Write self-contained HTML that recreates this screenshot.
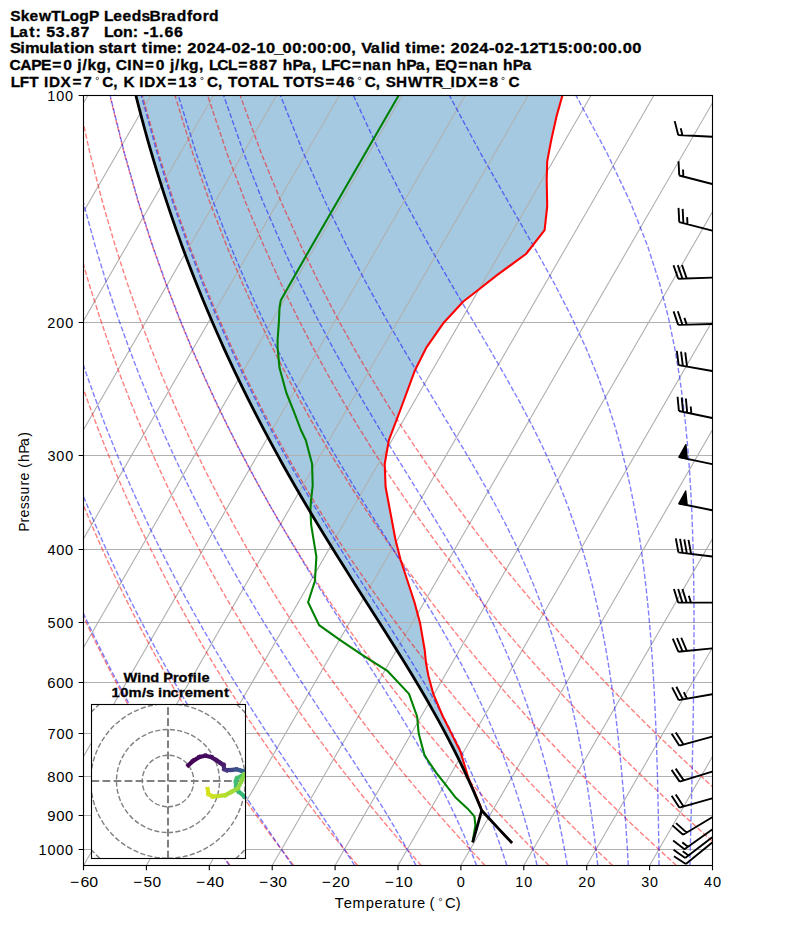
<!DOCTYPE html><html><head><meta charset="utf-8"><title>SkewT</title><style>html,body{margin:0;padding:0;background:#fff;width:794px;height:937px;overflow:hidden}svg{display:block}</style></head><body><svg width="794" height="937" viewBox="0 0 794 937"><defs>
<clipPath id="ax"><rect x="83.5" y="95.5" width="629.0" height="770.0"/></clipPath>
<clipPath id="ins"><rect x="91.5" y="704.5" width="154.0" height="154.0"/></clipPath>
</defs>
<rect x="0" y="0" width="794" height="937" fill="#fff"/>
<g clip-path="url(#ax)">
<polygon points="562.5,95.3 556.5,116.4 551.2,140.2 547.2,161.4 546.7,179.9 547.2,206.4 544.6,230.2 526,254 497,275.1 477.2,290.8 463.3,301.5 443.7,322.7 426.5,347.3 415,370.2 400.3,410 388.8,440.3 384.7,464 385.6,487 395.4,539.3 400.5,559.5 414.4,602 420.1,623.3 424.7,650 426,663.1 428.5,676.2 433.4,694.2 442.4,715.5 452.2,735.1 460.4,751.5 468.6,778.5 480.5,806.3 481.7,810.3 481.74,810.45 479.26,804.44 476.72,798.43 474.12,792.42 471.46,786.42 468.75,780.41 465.97,774.4 463.14,768.39 460.25,762.38 457.3,756.37 454.3,750.37 451.23,744.36 448.11,738.35 444.94,732.34 441.71,726.33 438.43,720.32 435.09,714.32 431.71,708.31 428.28,702.3 424.8,696.29 421.28,690.28 417.72,684.27 414.12,678.26 410.49,672.26 406.82,666.25 403.12,660.24 399.4,654.23 395.65,648.22 391.88,642.21 388.09,636.21 384.29,630.2 380.48,624.19 376.65,618.18 372.82,612.17 368.99,606.16 365.16,600.16 361.33,594.15 357.5,588.14 353.68,582.13 349.87,576.12 346.07,570.11 342.29,564.11 338.52,558.1 334.77,552.09 331.03,546.08 327.32,540.07 323.63,534.06 319.96,528.05 316.31,522.05 312.7,516.04 309.1,510.03 305.54,504.02 302,498.01 298.49,492 295.01,486 291.56,479.99 288.14,473.98 284.75,467.97 281.4,461.96 278.07,455.95 274.78,449.95 271.51,443.94 268.28,437.93 265.09,431.92 261.92,425.91 258.79,419.9 255.69,413.9 252.62,407.89 249.59,401.88 246.59,395.87 243.62,389.86 240.69,383.85 237.78,377.84 234.91,371.84 232.07,365.83 229.27,359.82 226.49,353.81 223.75,347.8 221.04,341.79 218.37,335.79 215.72,329.78 213.11,323.77 210.53,317.76 207.98,311.75 205.46,305.74 202.97,299.74 200.51,293.73 198.09,287.72 195.69,281.71 193.32,275.7 190.99,269.69 188.69,263.69 186.41,257.68 184.17,251.67 181.95,245.66 179.77,239.65 177.61,233.64 175.49,227.63 173.39,221.63 171.32,215.62 169.29,209.61 167.28,203.6 165.3,197.59 163.34,191.58 161.42,185.58 159.52,179.57 157.66,173.56 155.82,167.55 154,161.54 152.22,155.53 150.46,149.53 148.73,143.52 147.03,137.51 145.35,131.5 143.7,125.49 142.08,119.48 140.49,113.48 138.92,107.47 137.38,101.46 135.86,95.45 127.65,60.95 562.5,80" fill="#1f77b4" fill-opacity="0.4" stroke="none"/>
<path d="M-419.7 865.5L24.86 95.5M-356.8 865.5L87.76 95.5M-293.9 865.5L150.66 95.5M-231 865.5L213.56 95.5M-168.1 865.5L276.46 95.5M-105.2 865.5L339.36 95.5M-42.3 865.5L402.26 95.5M20.6 865.5L465.16 95.5M83.5 865.5L528.06 95.5M146.4 865.5L590.96 95.5M209.3 865.5L653.86 95.5M272.2 865.5L716.76 95.5M335.1 865.5L779.66 95.5M398 865.5L842.56 95.5M460.9 865.5L905.46 95.5M523.8 865.5L968.36 95.5M586.7 865.5L1031.26 95.5M649.6 865.5L1094.16 95.5M712.5 865.5L1157.06 95.5M83.5 95.5L712.5 95.5M83.5 322.5L712.5 322.5M83.5 455.5L712.5 455.5M83.5 549.5L712.5 549.5M83.5 622.5L712.5 622.5M83.5 682.5L712.5 682.5M83.5 733.5L712.5 733.5M83.5 776.5L712.5 776.5M83.5 815.5L712.5 815.5M83.5 849.5L712.5 849.5" stroke="#b0b0b0" stroke-width="1.11" fill="none"/>
<path d="M229.92 865.45L225.54 859.35L221.13 853.13L216.67 846.79L212.18 840.32L207.64 833.73L203.05 827L198.42 820.13L193.75 813.11L189.03 805.94L184.26 798.6L179.44 791.1L174.57 783.43L169.64 775.56L164.66 767.51L159.63 759.25L154.54 750.78L149.39 742.08L144.18 733.15L138.91 723.97L133.57 714.52L128.17 704.79L122.7 694.76L117.16 684.41L111.54 673.73L105.86 662.69L100.09 651.26L94.25 639.42L88.33 627.13L82.32 614.37L76.22 601.09L70.04 587.24L63.76 572.79L57.39 557.67L50.93 541.81L44.37 525.15L37.71 507.59L30.94 489.04L24.08 469.38L17.12 448.46L10.07 426.11L2.92 402.12L-4.3 376.24L-11.58 348.13L-18.89 317.38L-26.2 283.45L-33.42 245.58L-40.45 202.76L-47.1 153.48L-53.05 95.45M293.7 865.45L288.99 859.35L284.23 853.13L279.43 846.79L274.58 840.32L269.68 833.73L264.73 827L259.73 820.13L254.69 813.11L249.58 805.94L244.43 798.6L239.21 791.1L233.94 783.43L228.61 775.56L223.22 767.51L217.77 759.25L212.25 750.78L206.66 742.08L201.01 733.15L195.28 723.97L189.48 714.52L183.61 704.79L177.65 694.76L171.62 684.41L165.5 673.73L159.3 662.69L153 651.26L146.62 639.42L140.13 627.13L133.55 614.37L126.87 601.09L120.08 587.24L113.17 572.79L106.16 557.67L99.02 541.81L91.76 525.15L84.38 507.59L76.87 489.04L69.23 469.38L61.45 448.46L53.54 426.11L45.5 402.12L37.32 376.24L29.03 348.13L20.64 317.38L12.19 283.45L3.72 245.58L-4.67 202.76L-12.83 153.48L-20.47 95.45M357.48 865.45L352.43 859.35L347.33 853.13L342.18 846.79L336.98 840.32L331.72 833.73L326.41 827L321.04 820.13L315.62 813.11L310.14 805.94L304.6 798.6L298.99 791.1L293.32 783.43L287.58 775.56L281.78 767.51L275.91 759.25L269.96 750.78L263.94 742.08L257.84 733.15L251.66 723.97L245.4 714.52L239.05 704.79L232.61 694.76L226.08 684.41L219.46 673.73L212.74 662.69L205.91 651.26L198.98 639.42L191.94 627.13L184.79 614.37L177.51 601.09L170.11 587.24L162.58 572.79L154.92 557.67L147.11 541.81L139.16 525.15L131.06 507.59L122.8 489.04L114.37 469.38L105.78 448.46L97.01 426.11L88.07 402.12L78.95 376.24L69.65 348.13L60.18 317.38L50.57 283.45L40.86 245.58L31.1 202.76L21.44 153.48L12.11 95.45M421.26 865.45L415.87 859.35L410.43 853.13L404.93 846.79L399.38 840.32L393.76 833.73L388.09 827L382.35 820.13L376.56 813.11L370.69 805.94L364.77 798.6L358.77 791.1L352.7 783.43L346.56 775.56L340.34 767.51L334.04 759.25L327.67 750.78L321.21 742.08L314.67 733.15L308.03 723.97L301.31 714.52L294.49 704.79L287.57 694.76L280.55 684.41L273.42 673.73L266.18 662.69L258.82 651.26L251.35 639.42L243.75 627.13L236.02 614.37L228.16 601.09L220.15 587.24L211.99 572.79L203.68 557.67L195.21 541.81L186.56 525.15L177.74 507.59L168.73 489.04L159.52 469.38L150.11 448.46L140.49 426.11L130.64 402.12L120.57 376.24L110.26 348.13L99.72 317.38L88.96 283.45L78 245.58L66.88 202.76L55.71 153.48L44.69 95.45M485.05 865.45L479.32 859.35L473.53 853.13L467.68 846.79L461.78 840.32L455.8 833.73L449.77 827L443.66 820.13L437.49 813.11L431.25 805.94L424.93 798.6L418.54 791.1L412.08 783.43L405.53 775.56L398.9 767.51L392.18 759.25L385.38 750.78L378.48 742.08L371.5 733.15L364.41 723.97L357.22 714.52L349.93 704.79L342.53 694.76L335.01 684.41L327.38 673.73L319.62 662.69L311.74 651.26L303.72 639.42L295.56 627.13L287.26 614.37L278.8 601.09L270.18 587.24L261.4 572.79L252.44 557.67L243.3 541.81L233.96 525.15L224.41 507.59L214.65 489.04L204.67 469.38L194.44 448.46L183.96 426.11L173.22 402.12L162.19 376.24L150.88 348.13L139.26 317.38L127.35 283.45L115.13 245.58L102.65 202.76L89.98 153.48L77.27 95.45M548.83 865.45L542.76 859.35L536.63 853.13L530.44 846.79L524.18 840.32L517.85 833.73L511.45 827L504.97 820.13L498.43 813.11L491.81 805.94L485.1 798.6L478.32 791.1L471.45 783.43L464.5 775.56L457.46 767.51L450.32 759.25L443.09 750.78L435.76 742.08L428.33 733.15L420.79 723.97L413.13 714.52L405.37 704.79L397.48 694.76L389.47 684.41L381.34 673.73L373.06 662.69L364.65 651.26L356.08 639.42L347.37 627.13L338.49 614.37L329.44 601.09L320.22 587.24L310.81 572.79L301.2 557.67L291.39 541.81L281.36 525.15L271.09 507.59L260.58 489.04L249.81 469.38L238.77 448.46L227.44 426.11L215.79 402.12L203.81 376.24L191.49 348.13L178.8 317.38L165.73 283.45L152.27 245.58L138.43 202.76L124.25 153.48L109.85 95.45M612.61 865.45L606.21 859.35L599.73 853.13L593.19 846.79L586.58 840.32L579.89 833.73L573.12 827L566.28 820.13L559.36 813.11L552.36 805.94L545.27 798.6L538.1 791.1L530.83 783.43L523.47 775.56L516.02 767.51L508.46 759.25L500.8 750.78L493.03 742.08L485.15 733.15L477.16 723.97L469.05 714.52L460.81 704.79L452.44 694.76L443.94 684.41L435.29 673.73L426.5 662.69L417.56 651.26L408.45 639.42L399.18 627.13L389.73 614.37L380.09 601.09L370.26 587.24L360.22 572.79L349.97 557.67L339.48 541.81L328.75 525.15L317.77 507.59L306.51 489.04L294.96 469.38L283.1 448.46L270.91 426.11L258.36 402.12L245.44 376.24L232.11 348.13L218.34 317.38L204.12 283.45L189.41 245.58L174.21 202.76L158.52 153.48L142.43 95.45M676.4 865.45L669.65 859.35L662.83 853.13L655.94 846.79L648.98 840.32L641.93 833.73L634.8 827L627.59 820.13L620.3 813.11L612.92 805.94L605.44 798.6L597.87 791.1L590.21 783.43L582.44 775.56L574.58 767.51L566.6 759.25L558.51 750.78L550.31 742.08L541.98 733.15L533.54 723.97L524.96 714.52L516.25 704.79L507.4 694.76L498.4 684.41L489.25 673.73L479.94 662.69L470.47 651.26L460.82 639.42L450.99 627.13L440.96 614.37L430.73 601.09L420.29 587.24L409.63 572.79L398.73 557.67L387.57 541.81L376.15 525.15L364.45 507.59L352.44 489.04L340.11 469.38L327.43 448.46L314.38 426.11L300.94 402.12L287.06 376.24L272.72 348.13L257.88 317.38L242.5 283.45L226.55 245.58L209.98 202.76L192.79 153.48L175 95.45M740.18 865.45L733.1 859.35L725.93 853.13L718.7 846.79L711.38 840.32L703.97 833.73L696.48 827L688.9 820.13L681.24 813.11L673.47 805.94L665.61 798.6L657.65 791.1L649.59 783.43L641.42 775.56L633.13 767.51L624.74 759.25L616.22 750.78L607.58 742.08L598.81 733.15L589.91 723.97L580.87 714.52L571.69 704.79L562.36 694.76L552.87 684.41L543.21 673.73L533.38 662.69L523.38 651.26L513.19 639.42L502.79 627.13L492.2 614.37L481.38 601.09L470.33 587.24L459.04 572.79L447.49 557.67L435.66 541.81L423.55 525.15L411.12 507.59L398.37 489.04L385.25 469.38L371.76 448.46L357.86 426.11L343.51 402.12L328.68 376.24L313.34 348.13L297.42 317.38L280.89 283.45L263.69 245.58L245.76 202.76L227.06 153.48L207.58 95.45M803.96 865.45L796.54 859.35L789.04 853.13L781.45 846.79L773.78 840.32L766.01 833.73L758.16 827L750.21 820.13L742.17 813.11L734.03 805.94L725.78 798.6L717.43 791.1L708.97 783.43L700.39 775.56L691.69 767.51L682.88 759.25L673.93 750.78L664.86 742.08L655.64 733.15L646.29 723.97L636.79 714.52L627.13 704.79L617.31 694.76L607.33 684.41L597.17 673.73L586.83 662.69L576.29 651.26L565.55 639.42L554.6 627.13L543.43 614.37L532.02 601.09L520.37 587.24L508.45 572.79L496.25 557.67L483.76 541.81L470.95 525.15L457.8 507.59L444.29 489.04L430.4 469.38L416.09 448.46L401.33 426.11L386.08 402.12L370.31 376.24L353.95 348.13L336.96 317.38L319.28 283.45L300.83 245.58L281.54 202.76L261.33 153.48L240.16 95.45" stroke="#ff0000" stroke-opacity="0.5" stroke-width="1.39" fill="none" stroke-dasharray="5.14 2.22"/>
<path d="M229.35 865.45L225.21 859.35L221.01 853.13L216.75 846.79L212.44 840.32L208.06 833.73L203.63 827L199.13 820.13L194.58 813.11L189.97 805.94L185.29 798.6L180.55 791.1L175.76 783.43L170.9 775.56L165.97 767.51L160.99 759.25L155.93 750.78L150.82 742.08L145.63 733.15L140.38 723.97L135.06 714.52L129.67 704.79L124.2 694.76L118.66 684.41L113.05 673.73L107.36 662.69L101.59 651.26L95.74 639.42L89.8 627.13L83.78 614.37L77.67 601.09L71.48 587.24L65.18 572.79L58.8 557.67L52.31 541.81L45.73 525.15L39.05 507.59L32.27 489.04L25.38 469.38L18.4 448.46L11.32 426.11L4.15 402.12L-3.1 376.24L-10.41 348.13L-17.75 317.38L-25.09 283.45L-32.35 245.58L-39.42 202.76L-46.12 153.48L-52.11 95.45M292.33 865.45L288.18 859.35L283.94 853.13L279.63 846.79L275.23 840.32L270.74 833.73L266.18 827L261.53 820.13L256.8 813.11L251.99 805.94L247.09 798.6L242.11 791.1L237.04 783.43L231.9 775.56L226.66 767.51L221.35 759.25L215.95 750.78L210.46 742.08L204.89 733.15L199.23 723.97L193.48 714.52L187.64 704.79L181.72 694.76L175.7 684.41L169.58 673.73L163.38 662.69L157.07 651.26L150.67 639.42L144.16 627.13L137.55 614.37L130.83 601.09L124 587.24L117.06 572.79L109.99 557.67L102.81 541.81L95.5 525.15L88.07 507.59L80.5 489.04L72.79 469.38L64.95 448.46L56.97 426.11L48.86 402.12L40.61 376.24L32.24 348.13L23.77 317.38L15.22 283.45L6.65 245.58L-1.85 202.76L-10.13 153.48L-17.9 95.45M354.59 865.45L350.71 859.35L346.71 853.13L342.61 846.79L338.4 840.32L334.07 833.73L329.63 827L325.08 820.13L320.41 813.11L315.62 805.94L310.72 798.6L305.7 791.1L300.56 783.43L295.3 775.56L289.92 767.51L284.42 759.25L278.8 750.78L273.06 742.08L267.21 733.15L261.23 723.97L255.13 714.52L248.92 704.79L242.58 694.76L236.12 684.41L229.54 673.73L222.84 662.69L216.01 651.26L209.06 639.42L201.97 627.13L194.76 614.37L187.41 601.09L179.93 587.24L172.3 572.79L164.53 557.67L156.61 541.81L148.53 525.15L140.29 507.59L131.89 489.04L123.31 469.38L114.56 448.46L105.62 426.11L96.5 402.12L87.19 376.24L77.69 348.13L68.02 317.38L58.18 283.45L48.21 245.58L38.19 202.76L28.23 153.48L18.56 95.45M415.97 865.45L412.68 859.35L409.28 853.13L405.75 846.79L402.1 840.32L398.31 833.73L394.38 827L390.31 820.13L386.1 813.11L381.73 805.94L377.21 798.6L372.54 791.1L367.7 783.43L362.69 775.56L357.52 767.51L352.18 759.25L346.66 750.78L340.97 742.08L335.11 733.15L329.07 723.97L322.86 714.52L316.46 704.79L309.9 694.76L303.15 684.41L296.23 673.73L289.13 662.69L281.86 651.26L274.41 639.42L266.78 627.13L258.98 614.37L251 601.09L242.84 587.24L234.49 572.79L225.96 557.67L217.23 541.81L208.31 525.15L199.19 507.59L189.86 489.04L180.31 469.38L170.53 448.46L160.52 426.11L150.26 402.12L139.76 376.24L128.99 348.13L117.95 317.38L106.66 283.45L95.12 245.58L83.37 202.76L71.51 153.48L59.71 95.45M476.62 865.45L474.2 859.35L471.67 853.13L469.03 846.79L466.27 840.32L463.39 833.73L460.39 827L457.24 820.13L453.95 813.11L450.5 805.94L446.9 798.6L443.12 791.1L439.16 783.43L435.01 775.56L430.66 767.51L426.11 759.25L421.34 750.78L416.34 742.08L411.1 733.15L405.63 723.97L399.9 714.52L393.91 704.79L387.66 694.76L381.14 684.41L374.34 673.73L367.27 662.69L359.92 651.26L352.29 639.42L344.38 627.13L336.19 614.37L327.73 601.09L318.99 587.24L309.97 572.79L300.68 557.67L291.12 541.81L281.28 525.15L271.16 507.59L260.75 489.04L250.05 469.38L239.06 448.46L227.75 426.11L216.12 402.12L204.15 376.24L191.83 348.13L179.14 317.38L166.06 283.45L152.59 245.58L138.74 202.76L124.54 153.48L110.12 95.45M506.83 865.45L504.87 859.35L502.83 853.13L500.69 846.79L498.46 840.32L496.11 833.73L493.66 827L491.09 820.13L488.38 813.11L485.54 805.94L482.56 798.6L479.42 791.1L476.11 783.43L472.62 775.56L468.94 767.51L465.06 759.25L460.97 750.78L456.65 742.08L452.08 733.15L447.26 723.97L442.16 714.52L436.78 704.79L431.1 694.76L425.11 684.41L418.79 673.73L412.13 662.69L405.13 651.26L397.77 639.42L390.06 627.13L381.98 614.37L373.53 601.09L364.72 587.24L355.54 572.79L346 557.67L336.1 541.81L325.85 525.15L315.23 507.59L304.26 489.04L292.93 469.38L281.24 448.46L269.17 426.11L256.72 402.12L243.87 376.24L230.59 348.13L216.88 317.38L202.71 283.45L188.05 245.58L172.89 202.76L157.26 153.48L141.23 95.45M537.05 865.45L535.56 859.35L533.99 853.13L532.35 846.79L530.64 840.32L528.84 833.73L526.95 827L524.97 820.13L522.88 813.11L520.68 805.94L518.36 798.6L515.91 791.1L513.33 783.43L510.59 775.56L507.69 767.51L504.62 759.25L501.35 750.78L497.88 742.08L494.19 733.15L490.26 723.97L486.08 714.52L481.61 704.79L476.84 694.76L471.75 684.41L466.32 673.73L460.51 662.69L454.32 651.26L447.71 639.42L440.66 627.13L433.16 614.37L425.18 601.09L416.73 587.24L407.77 572.79L398.32 557.67L388.37 541.81L377.92 525.15L366.98 507.59L355.55 489.04L343.63 469.38L331.24 448.46L318.36 426.11L304.99 402.12L291.13 376.24L276.76 348.13L261.85 317.38L246.38 283.45L230.3 245.58L213.61 202.76L196.26 153.48L178.3 95.45M567.36 865.45L566.29 859.35L565.17 853.13L564 846.79L562.78 840.32L561.49 833.73L560.14 827L558.72 820.13L557.23 813.11L555.65 805.94L553.99 798.6L552.22 791.1L550.36 783.43L548.38 775.56L546.28 767.51L544.05 759.25L541.66 750.78L539.12 742.08L536.41 733.15L533.5 723.97L530.38 714.52L527.03 704.79L523.42 694.76L519.53 684.41L515.33 673.73L510.8 662.69L505.89 651.26L500.57 639.42L494.8 627.13L488.54 614.37L481.75 601.09L474.39 587.24L466.42 572.79L457.81 557.67L448.52 541.81L438.53 525.15L427.82 507.59L416.39 489.04L404.25 469.38L391.39 448.46L377.83 426.11L363.59 402.12L348.66 376.24L333.05 348.13L316.75 317.38L299.73 283.45L281.95 245.58L263.37 202.76L243.93 153.48L223.62 95.45M597.78 865.45L597.1 859.35L596.38 853.13L595.63 846.79L594.85 840.32L594.03 833.73L593.16 827L592.25 820.13L591.29 813.11L590.27 805.94L589.2 798.6L588.06 791.1L586.86 783.43L585.58 775.56L584.22 767.51L582.76 759.25L581.21 750.78L579.55 742.08L577.77 733.15L575.86 723.97L573.8 714.52L571.58 704.79L569.17 694.76L566.56 684.41L563.73 673.73L560.64 662.69L557.26 651.26L553.56 639.42L549.49 627.13L545.02 614.37L540.08 601.09L534.61 587.24L528.55 572.79L521.83 557.67L514.37 541.81L506.08 525.15L496.88 507.59L486.71 489.04L475.49 469.38L463.19 448.46L449.77 426.11L435.24 402.12L419.61 376.24L402.91 348.13L385.17 317.38L366.4 283.45L346.59 245.58L325.7 202.76L303.67 153.48L280.42 95.45M628.34 865.45L627.99 859.35L627.62 853.13L627.24 846.79L626.83 840.32L626.41 833.73L625.95 827L625.48 820.13L624.97 813.11L624.44 805.94L623.87 798.6L623.27 791.1L622.63 783.43L621.95 775.56L621.22 767.51L620.43 759.25L619.59 750.78L618.69 742.08L617.72 733.15L616.67 723.97L615.53 714.52L614.3 704.79L612.96 694.76L611.5 684.41L609.89 673.73L608.14 662.69L606.2 651.26L604.06 639.42L601.7 627.13L599.06 614.37L596.11 601.09L592.81 587.24L589.09 572.79L584.88 557.67L580.1 541.81L574.65 525.15L568.4 507.59L561.21 489.04L552.94 469.38L543.39 448.46L532.39 426.11L519.75 402.12L505.34 376.24L489.06 348.13L470.9 317.38L450.88 283.45L429.08 245.58L405.57 202.76L380.37 153.48L353.4 95.45M659.05 865.45L658.98 859.35L658.9 853.13L658.82 846.79L658.72 840.32L658.62 833.73L658.52 827L658.4 820.13L658.27 813.11L658.13 805.94L657.98 798.6L657.81 791.1L657.63 783.43L657.43 775.56L657.21 767.51L656.96 759.25L656.7 750.78L656.4 742.08L656.08 733.15L655.72 723.97L655.32 714.52L654.87 704.79L654.38 694.76L653.83 684.41L653.21 673.73L652.52 662.69L651.74 651.26L650.87 639.42L649.88 627.13L648.75 614.37L647.47 601.09L646.01 587.24L644.33 572.79L642.39 557.67L640.14 541.81L637.51 525.15L634.42 507.59L630.77 489.04L626.42 469.38L621.19 448.46L614.87 426.11L607.17 402.12L597.72 376.24L586.09 348.13L571.77 317.38L554.3 283.45L533.32 245.58L508.74 202.76L480.69 153.48L449.42 95.45M689.91 865.45L690.06 859.35L690.21 853.13L690.37 846.79L690.53 840.32L690.69 833.73L690.86 827L691.02 820.13L691.19 813.11L691.36 805.94L691.54 798.6L691.71 791.1L691.89 783.43L692.06 775.56L692.24 767.51L692.41 759.25L692.59 750.78L692.76 742.08L692.93 733.15L693.09 723.97L693.25 714.52L693.4 704.79L693.54 694.76L693.67 684.41L693.78 673.73L693.88 662.69L693.96 651.26L694 639.42L694.02 627.13L694 614.37L693.92 601.09L693.79 587.24L693.58 572.79L693.29 557.67L692.88 541.81L692.33 525.15L691.6 507.59L690.66 489.04L689.43 469.38L687.83 448.46L685.76 426.11L683.05 402.12L679.49 376.24L674.74 348.13L668.35 317.38L659.61 283.45L647.49 245.58L630.58 202.76L607.19 153.48L576.01 95.45M720.89 865.45L721.22 859.35L721.55 853.13L721.9 846.79L722.26 840.32L722.62 833.73L723 827L723.39 820.13L723.78 813.11L724.19 805.94L724.62 798.6L725.05 791.1L725.5 783.43L725.96 775.56L726.43 767.51L726.92 759.25L727.42 750.78L727.94 742.08L728.47 733.15L729.02 723.97L729.59 714.52L730.17 704.79L730.77 694.76L731.39 684.41L732.03 673.73L732.68 662.69L733.36 651.26L734.05 639.42L734.76 627.13L735.5 614.37L736.25 601.09L737.01 587.24L737.8 572.79L738.59 557.67L739.39 541.81L740.2 525.15L741 507.59L741.79 489.04L742.55 469.38L743.25 448.46L743.87 426.11L744.37 402.12L744.67 376.24L744.67 348.13L744.21 317.38L743.03 283.45L740.7 245.58L736.45 202.76L728.84 153.48L715.09 95.45M751.98 865.45L752.45 859.35L752.92 853.13L753.41 846.79L753.92 840.32L754.44 833.73L754.97 827L755.52 820.13L756.09 813.11L756.68 805.94L757.29 798.6L757.91 791.1L758.56 783.43L759.23 775.56L759.92 767.51L760.64 759.25L761.38 750.78L762.14 742.08L762.94 733.15L763.77 723.97L764.62 714.52L765.51 704.79L766.44 694.76L767.4 684.41L768.4 673.73L769.44 662.69L770.53 651.26L771.66 639.42L772.85 627.13L774.09 614.37L775.39 601.09L776.75 587.24L778.18 572.79L779.68 557.67L781.26 541.81L782.92 525.15L784.67 507.59L786.52 489.04L788.48 469.38L790.55 448.46L792.74 426.11L795.06 402.12L797.52 376.24L800.11 348.13L802.84 317.38L805.69 283.45L808.59 245.58L811.44 202.76L813.96 153.48L815.52 95.45M783.17 865.45L783.73 859.35L784.31 853.13L784.91 846.79L785.52 840.32L786.15 833.73L786.8 827L787.47 820.13L788.16 813.11L788.88 805.94L789.62 798.6L790.38 791.1L791.17 783.43L791.99 775.56L792.83 767.51L793.71 759.25L794.62 750.78L795.56 742.08L796.54 733.15L797.56 723.97L798.62 714.52L799.72 704.79L800.86 694.76L802.06 684.41L803.31 673.73L804.61 662.69L805.98 651.26L807.41 639.42L808.91 627.13L810.48 614.37L812.14 601.09L813.89 587.24L815.73 572.79L817.68 557.67L819.75 541.81L821.95 525.15L824.29 507.59L826.79 489.04L829.47 469.38L832.34 448.46L835.45 426.11L838.81 402.12L842.48 376.24L846.49 348.13L850.9 317.38L855.8 283.45L861.27 245.58L867.44 202.76L874.46 153.48L882.53 95.45" stroke="#0000ff" stroke-opacity="0.5" stroke-width="1.39" fill="none" stroke-dasharray="5.14 2.22"/>
<polyline points="562.5,95.3 556.5,116.4 551.2,140.2 547.2,161.4 546.7,179.9 547.2,206.4 544.6,230.2 526,254 497,275.1 477.2,290.8 463.3,301.5 443.7,322.7 426.5,347.3 415,370.2 400.3,410 388.8,440.3 384.7,464 385.6,487 395.4,539.3 400.5,559.5 414.4,602 420.1,623.3 424.7,650 426,663.1 428.5,676.2 433.4,694.2 442.4,715.5 452.2,735.1 460.4,751.5 468.6,778.5 480.5,806.3 481.7,810.3 486.13,815.29 490.53,820.07 494.9,824.78 499.23,829.41 503.53,833.99 507.8,838.5 512.04,842.95" stroke="#ff0000" stroke-width="2.08" fill="none" stroke-linejoin="round"/>
<polyline points="398.6,95.6 309.4,250 280.8,300.2 279.5,308 278.9,321.9 277.6,340 277.6,347.6 279.5,367.8 286.4,393 294,411.9 300.9,430 305.8,440.2 312.1,464.1 312.7,485.5 310.9,501.9 310.4,510 311.2,525.1 316.4,556.8 314.9,581 308.1,602.2 319.1,625.1 340.2,640.2 362.9,655.3 387.8,671.2 409,693.9 417.1,716.5 418.7,733.5 424.4,754.8 427.6,760 436.1,772.6 445.2,784.2 455.8,797.8 467.4,808.4 474.4,816.4 475.4,825.5 472.9,840 472.7,842.4" stroke="#008000" stroke-width="2.08" fill="none" stroke-linejoin="round"/>
<polyline points="512.04,842.95 507.8,838.5 503.53,833.99 499.23,829.41 494.9,824.78 490.53,820.07 486.13,815.29 481.7,810.45 479.26,804.44 476.72,798.43 474.12,792.42 471.46,786.42 468.75,780.41 465.97,774.4 463.14,768.39 460.25,762.38 457.3,756.37 454.3,750.37 451.23,744.36 448.11,738.35 444.94,732.34 441.71,726.33 438.43,720.32 435.09,714.32 431.71,708.31 428.28,702.3 424.8,696.29 421.28,690.28 417.72,684.27 414.12,678.26 410.49,672.26 406.82,666.25 403.12,660.24 399.4,654.23 395.65,648.22 391.88,642.21 388.09,636.21 384.29,630.2 380.48,624.19 376.65,618.18 372.82,612.17 368.99,606.16 365.16,600.16 361.33,594.15 357.5,588.14 353.68,582.13 349.87,576.12 346.07,570.11 342.29,564.11 338.52,558.1 334.77,552.09 331.03,546.08 327.32,540.07 323.63,534.06 319.96,528.05 316.31,522.05 312.7,516.04 309.1,510.03 305.54,504.02 302,498.01 298.49,492 295.01,486 291.56,479.99 288.14,473.98 284.75,467.97 281.4,461.96 278.07,455.95 274.78,449.95 271.51,443.94 268.28,437.93 265.09,431.92 261.92,425.91 258.79,419.9 255.69,413.9 252.62,407.89 249.59,401.88 246.59,395.87 243.62,389.86 240.69,383.85 237.78,377.84 234.91,371.84 232.07,365.83 229.27,359.82 226.49,353.81 223.75,347.8 221.04,341.79 218.37,335.79 215.72,329.78 213.11,323.77 210.53,317.76 207.98,311.75 205.46,305.74 202.97,299.74 200.51,293.73 198.09,287.72 195.69,281.71 193.32,275.7 190.99,269.69 188.69,263.69 186.41,257.68 184.17,251.67 181.95,245.66 179.77,239.65 177.61,233.64 175.49,227.63 173.39,221.63 171.32,215.62 169.29,209.61 167.28,203.6 165.3,197.59 163.34,191.58 161.42,185.58 159.52,179.57 157.66,173.56 155.82,167.55 154,161.54 152.22,155.53 150.46,149.53 148.73,143.52 147.03,137.51 145.35,131.5 143.7,125.49 142.08,119.48 140.49,113.48 138.92,107.47 137.38,101.46 135.86,95.45 127.65,60.95" stroke="#000" stroke-width="2.78" fill="none" stroke-linejoin="round"/>
<polyline points="472.7,842.4 481.74,810.45" stroke="#000" stroke-width="2.78" fill="none"/>
</g>
<g clip-path="url(#ax)">
<path d="M712.2 136.8L678.22 134.94M678.22 134.94L674.72 121.12M682.47 135.18L680.72 128.27M712.2 184L679.25 175.49M679.25 175.49L678.54 161.25M683.37 176.56L683.01 169.44M712.2 230.6L679.25 222.09M679.25 222.09L678.54 207.85M683.37 223.16L682.65 208.92M687.49 224.22L687.13 217.1M712.2 277.6L678.19 278.68M678.19 278.68L673.51 265.21M682.44 278.54L677.76 265.07M686.69 278.41L682.01 264.94M712.2 324L678.18 324.88M678.18 324.88L673.58 311.38M682.44 324.77L677.83 311.27M686.69 324.66L684.39 317.91M712.2 371L678.68 365.12M678.68 365.12L676.84 350.98M682.87 365.86L681.03 351.72M687.06 366.59L685.22 352.45M712.2 418L678.91 410.97M678.91 410.97L677.56 396.77M683.07 411.85L681.72 397.65M687.23 412.73L685.88 398.53M691.39 413.61L690.72 406.51M712.2 464.1L678.91 457.07M712.2 510.2L678.84 503.47M712.2 556.5L678.42 552.42M678.42 552.42L675.83 538.4M682.64 552.93L680.05 538.91M686.86 553.44L684.27 539.42M691.09 553.95L688.49 539.93M712.2 602.6L678.17 602.6M678.17 602.6L673.92 588.99M682.43 602.6L678.17 588.99M686.68 602.6L682.43 588.99M690.93 602.6L688.81 595.79M712.2 648.4L678.33 651.71M678.33 651.71L672.78 638.58M682.57 651.3L677.01 638.16M686.8 650.88L681.24 637.75M712.2 694.2L678.69 700.1M678.69 700.1L672.14 687.43M682.88 699.36L676.33 686.69M687.07 698.62L683.79 692.29M712.2 736.6L679.4 745.66M679.4 745.66L671.68 733.67M683.5 744.52L675.78 732.54M712.2 771.6L679.68 781.63M679.68 781.63L671.61 769.88M683.75 780.37L675.67 768.62M712.2 798.4L679.47 807.69M679.47 807.69L671.66 795.76M683.56 806.53L675.75 794.6M712.2 817.2L683.07 834.79M683.07 834.79L672.4 825.34M686.71 832.6L676.04 823.14M712.2 829.4L684.49 849.15M684.49 849.15L673.13 840.53M687.95 846.68L682.27 842.37M712.2 837.3L685.2 858.01M685.2 858.01L673.54 849.8M688.58 855.42L682.75 851.32M712.2 842.6L685.81 864.08M685.81 864.08L673.92 856.21" stroke="#000" stroke-width="1.9" fill="none" stroke-linejoin="miter" stroke-linecap="butt"/>
<path d="M678.91 457.07L685.88 444.63L687.23 458.83ZM678.84 503.47L685.71 490.97L687.18 505.15Z" stroke="#000" stroke-width="1.39" fill="#000" stroke-linejoin="round"/>
</g>
<rect x="91.5" y="704.5" width="154.0" height="154.0" fill="#fff"/>
<g clip-path="url(#ins)">
<g stroke="#808080" stroke-width="1.39" fill="none" stroke-dasharray="5.14 2.22"><path d="M168 806.75A25.75 25.75 0 0 0 193.75 781A25.75 25.75 0 0 0 168 755.25A25.75 25.75 0 0 0 142.25 781A25.75 25.75 0 0 0 168 806.75"/><path d="M168 832.5A51.5 51.5 0 0 0 219.5 781A51.5 51.5 0 0 0 168 729.5A51.5 51.5 0 0 0 116.5 781A51.5 51.5 0 0 0 168 832.5"/><path d="M168 858.25A77.25 77.25 0 0 0 245.25 781A77.25 77.25 0 0 0 168 703.75A77.25 77.25 0 0 0 90.75 781A77.25 77.25 0 0 0 168 858.25"/><path d="M168 884A103 103 0 0 0 271 781A103 103 0 0 0 168 678A103 103 0 0 0 65 781A103 103 0 0 0 168 884"/><path d="M168 909.75A128.75 128.75 0 0 0 296.75 781A128.75 128.75 0 0 0 168 652.25A128.75 128.75 0 0 0 39.25 781A128.75 128.75 0 0 0 168 909.75"/></g>
<path d="M91.5 781L245.5 781M168 858.5L168 704.5" stroke="#808080" stroke-width="2.08" fill="none" stroke-dasharray="7.71 3.33"/>
<g stroke-width="4.17" stroke-linecap="square" fill="none"><line x1="188.3" y1="765.2" x2="193.2" y2="760.8" stroke="#440154"/><line x1="193.2" y1="760.8" x2="199.4" y2="757" stroke="#450457"/><line x1="199.4" y1="757" x2="205.4" y2="755.7" stroke="#46085c"/><line x1="205.4" y1="755.7" x2="211" y2="757" stroke="#460b5e"/><line x1="211" y1="757" x2="216.2" y2="760.1" stroke="#471063"/><line x1="216.2" y1="760.1" x2="220.5" y2="763" stroke="#471365"/><line x1="220.5" y1="763" x2="223.5" y2="764.9" stroke="#481769"/><line x1="223.5" y1="764.9" x2="224.3" y2="769" stroke="#481c6e"/><line x1="224.3" y1="769" x2="226.7" y2="770.2" stroke="#472d7b"/><line x1="226.7" y1="770.2" x2="231.5" y2="770" stroke="#453781"/><line x1="231.5" y1="770" x2="236.4" y2="769.4" stroke="#3f4788"/><line x1="236.4" y1="769.4" x2="240.5" y2="770.5" stroke="#3b528b"/><line x1="240.5" y1="770.5" x2="244.5" y2="771.8" stroke="#365d8d"/><line x1="244.5" y1="771.8" x2="250" y2="773.5" stroke="#31678e"/><line x1="250" y1="773.5" x2="244.9" y2="774" stroke="#52c569"/><line x1="244.9" y1="774" x2="240.5" y2="776.5" stroke="#4ec36b"/><line x1="240.5" y1="776.5" x2="237" y2="778.2" stroke="#48c16e"/><line x1="237" y1="778.2" x2="235.9" y2="781.2" stroke="#44bf70"/><line x1="235.9" y1="781.2" x2="236.2" y2="786.9" stroke="#40bd72"/><line x1="236.2" y1="786.9" x2="238.5" y2="791.4" stroke="#3bbb75"/><line x1="238.5" y1="791.4" x2="244.9" y2="796.7" stroke="#37b878"/><line x1="244.9" y1="796.7" x2="250" y2="800" stroke="#35b779"/><line x1="250" y1="772.5" x2="244.1" y2="774.6" stroke="#7ad151"/><line x1="244.1" y1="774.6" x2="241.5" y2="781" stroke="#86d549"/><line x1="241.5" y1="781" x2="237.8" y2="788.3" stroke="#90d743"/><line x1="237.8" y1="788.3" x2="231.5" y2="791.8" stroke="#9bd93c"/><line x1="231.5" y1="791.8" x2="225.2" y2="795.2" stroke="#a8db34"/><line x1="225.2" y1="795.2" x2="218.9" y2="796" stroke="#b5de2b"/><line x1="218.9" y1="796" x2="212.6" y2="796.5" stroke="#c0df25"/><line x1="212.6" y1="796.5" x2="208.5" y2="794" stroke="#cae11f"/><line x1="208.5" y1="794" x2="207.6" y2="788.9" stroke="#d5e21a"/></g>
</g>
<rect x="91.5" y="704.5" width="154.0" height="154.0" fill="none" stroke="#000" stroke-width="1.11"/>
<rect x="83.5" y="95.5" width="629.0" height="770.0" fill="none" stroke="#000" stroke-width="1.11"/>
<path d="M78.64 95.5L83.5 95.5M78.64 322.5L83.5 322.5M78.64 455.5L83.5 455.5M78.64 549.5L83.5 549.5M78.64 622.5L83.5 622.5M78.64 682.5L83.5 682.5M78.64 733.5L83.5 733.5M78.64 776.5L83.5 776.5M78.64 815.5L83.5 815.5M78.64 849.5L83.5 849.5M83.5 865.5L83.5 870.36M146.4 865.5L146.4 870.36M209.3 865.5L209.3 870.36M272.2 865.5L272.2 870.36M335.1 865.5L335.1 870.36M398 865.5L398 870.36M460.9 865.5L460.9 870.36M523.8 865.5L523.8 870.36M586.7 865.5L586.7 870.36M649.6 865.5L649.6 870.36M712.5 865.5L712.5 870.36" stroke="#000" stroke-width="1.11" fill="none"/>
<g font-family="&quot;Liberation Sans&quot;, sans-serif" fill="#000">
<g transform="translate(10.3 20.6)"><text x="-0.13 9.83 18.05 26.97 38.69 47.48 55.98 65.09 74.31 88.3 97.08 105.95 114.66 123.78 131.35 142.19 147.94 157.06 166.74 172 181.5 187.55" y="0" font-size="14.72" font-weight="bold" transform="scale(1.06 1)" stroke="#000" stroke-width="0.3">SkewTLogPLeedsBradford</text></g>
<g transform="translate(10.3 36.6)"><text x="-0.23 7.99 17.51 23.24 33.18 42.16 51.14 56.01 64.93 86.84 95.24 104.27 113.48 123.25 128.79 137.76 142.7 151.68" y="0" font-size="14.72" font-weight="bold" transform="scale(1.08 1)" stroke="#000" stroke-width="0.3">Lat:53.87Lon:-1.66</text></g>
<g transform="translate(10.3 53)"><text x="-0.37 8.99 13.06 25.93 34.9 38.66 47.84 53.39 57.3 65.95 78.79 86.93 92 101.05 107.27 117.48 123.03 127.09 140.1 148.46 157.89 166.51 175.09 183.62 192.2 197.44 206.01 214.53 219.77 228.36 235.74 243.14 251.74 260.13 265.28 273.88 282.27 287.42 296.02 304.38 313.27 321.87 330.69 334.92 338.96 352.67 358.21 362.28 375.29 383.65 393.08 401.7 410.28 418.81 427.39 432.62 441.2 449.72 454.95 463.53 471.64 480.58 489.19 497.57 502.72 511.32 519.71 524.86 533.46 542.14 546.75 555.35" y="0" font-size="14.72" font-weight="bold" transform="scale(1.12 1)" stroke="#000" stroke-width="0.3">Simulationstarttime:2024-02-10_00:00:00,Validtime:2024-02-12T15:00:00.00</text></g>
<g transform="translate(10.3 70)"><text x="-0.69 9.43 19.82 28.96 39.64 49.94 63.25 68.04 72.92 81.37 90.76 99.52 110.26 114.94 126.96 137.26 150.56 155.35 160.23 168.69 178.08 187.37 195.22 205.4 215.13 225.41 234.56 243.64 257.13 266.32 275.46 284.61 293.9 302.25 310.72 322.26 332.27 341.28 350.5 364.4 373.6 382.74 391.89 400.83 410.18 422.69 432.7 441.71 450.93 464.84 474.03 483.17" y="0" font-size="14.72" font-weight="bold" transform="scale(1.06 1)" stroke="#000" stroke-width="0.3">CAPE=0j/kg,CIN=0j/kg,LCL=887hPa,LFC=nanhPa,EQ=nanhPa</text></g>
<g transform="translate(10.9 87)"><text x="-0.07 8.42 17.72 31.88 36.73 47.76 59.13 69.52 87.75 98.33 108.16 123.36 128.22 139.24 150.62 161.12 170.4 188.54 199.12 208.75 217.78 229.25 238.18 248.6 261.9 270.93 282.4 291.44 302.4 312.78 322.22 340.32 350.9 360.45 370.39 381.72 396.11 405.15 414.74 422.61 427.46 438.49 449.86 460.31 478.47" y="0" font-size="14.72" font-weight="bold" transform="scale(1.04 1)" stroke="#000" stroke-width="0.3">LFTIDX=7C,KIDX=13C,TOTALTOTS=46C,SHWTR_IDX=8C</text><circle cx="86.42" cy="-8.5" r="1.21" fill="none" stroke="#000" stroke-width="0.6"/><circle cx="191.08" cy="-8.5" r="1.21" fill="none" stroke="#000" stroke-width="0.6"/><circle cx="348.68" cy="-8.5" r="1.21" fill="none" stroke="#000" stroke-width="0.6"/><circle cx="492.14" cy="-8.5" r="1.21" fill="none" stroke="#000" stroke-width="0.6"/></g>
<g transform="translate(47.03 100.9)"><text x="0.34 9.42 18.43" y="0" font-size="14.72" font-weight="normal" transform="scale(0.98 1)">100</text></g>
<g transform="translate(47.15 327.9)"><text x="0.21 9.39 18.38" y="0" font-size="14.72" font-weight="normal" transform="scale(0.98 1)">200</text></g>
<g transform="translate(47.15 460.9)"><text x="0.42 9.41 18.41" y="0" font-size="14.72" font-weight="normal" transform="scale(0.98 1)">300</text></g>
<g transform="translate(47.15 554.9)"><text x="0.34 9.23 18.12" y="0" font-size="14.72" font-weight="normal" transform="scale(0.99 1)">400</text></g>
<g transform="translate(47.15 627.9)"><text x="0.37 9.48 18.54" y="0" font-size="14.72" font-weight="normal" transform="scale(0.98 1)">500</text></g>
<g transform="translate(47.03 687.9)"><text x="0.3 9.08 17.87" y="0" font-size="14.72" font-weight="normal" transform="scale(1.01 1)">600</text></g>
<g transform="translate(47.15 738.9)"><text x="0.35 9.33 18.27" y="0" font-size="14.72" font-weight="normal" transform="scale(0.99 1)">700</text></g>
<g transform="translate(47.03 781.9)"><text x="0.33 9.18 18.04" y="0" font-size="14.72" font-weight="normal" transform="scale(1 1)">800</text></g>
<g transform="translate(47.03 820.9)"><text x="0.25 9.09 17.88" y="0" font-size="14.72" font-weight="normal" transform="scale(1.01 1)">900</text></g>
<g transform="translate(38.28 854.9)"><text x="0.32 9.37 18.35 27.33" y="0" font-size="14.72" font-weight="normal" transform="scale(0.98 1)">1000</text></g>
<g transform="translate(68.88 887.3)"><text x="1.08 10.75 18.93" y="0" font-size="14.72" font-weight="normal" transform="scale(1.08 1)">−60</text></g>
<g transform="translate(131.84 887.3)"><text x="1.24 11.13 19.59" y="0" font-size="14.72" font-weight="normal" transform="scale(1.05 1)">−50</text></g>
<g transform="translate(194.74 887.3)"><text x="1.15 10.94 19.22" y="0" font-size="14.72" font-weight="normal" transform="scale(1.07 1)">−40</text></g>
<g transform="translate(257.64 887.3)"><text x="1.21 11.13 19.47" y="0" font-size="14.72" font-weight="normal" transform="scale(1.06 1)">−30</text></g>
<g transform="translate(320.54 887.3)"><text x="1.19 10.9 19.42" y="0" font-size="14.72" font-weight="normal" transform="scale(1.06 1)">−20</text></g>
<g transform="translate(383.38 887.3)"><text x="1.2 11 19.44" y="0" font-size="14.72" font-weight="normal" transform="scale(1.06 1)">−10</text></g>
<g transform="translate(456.52 887.3)"><text x="0.35" y="0" font-size="14.72" font-weight="normal" transform="scale(0.99 1)">0</text></g>
<g transform="translate(514.99 887.3)"><text x="0.37 9.52" y="0" font-size="14.72" font-weight="normal" transform="scale(0.97 1)">10</text></g>
<g transform="translate(577.95 887.3)"><text x="0.24 9.47" y="0" font-size="14.72" font-weight="normal" transform="scale(0.98 1)">20</text></g>
<g transform="translate(640.85 887.3)"><text x="0.45 9.5" y="0" font-size="14.72" font-weight="normal" transform="scale(0.97 1)">30</text></g>
<g transform="translate(703.75 887.3)"><text x="0.34 9.23" y="0" font-size="14.72" font-weight="normal" transform="scale(0.99 1)">40</text></g>
<g transform="translate(335 907.9)"><text x="-0.27 8.65 17.62 30.84 39.43 48.41 53.07 62.56 67.62 76.78 82.01 94.61 109.92 120.77" y="0" font-size="14.72" font-weight="normal" transform="scale(1 1)">Temperature(C)</text><circle cx="105.54" cy="-8.41" r="1.21" fill="none" stroke="#000" stroke-width="0.6"/></g>
<g transform="translate(29.2 531.55) rotate(-90)"><text x="-0.25 9.41 14.67 23.47 31.08 38.98 48.59 53.85 67.09 73.31 81.78 90.04 99.92" y="0" font-size="14.72" font-weight="normal" transform="scale(0.95 1)">Pressure(hPa)</text></g>
<g transform="translate(123.4 681.7)"><text x="-0.02 12.59 16.36 24.38 36.28 45.11 50.2 58.42 63.17 67.05 70.92" y="0" font-size="13.25" font-weight="bold" transform="scale(1.1 1)" stroke="#000" stroke-width="0.3">WindProfile</text></g>
<g transform="translate(111.3 696.7)"><text x="0.24 8.06 15.6 27.57 31.18 42.16 45.88 53.37 60.9 66.19 73.71 85.53 93.05 101.51" y="0" font-size="13.25" font-weight="bold" transform="scale(1.11 1)" stroke="#000" stroke-width="0.3">10m/sincrement</text></g>
</g></svg></body></html>
